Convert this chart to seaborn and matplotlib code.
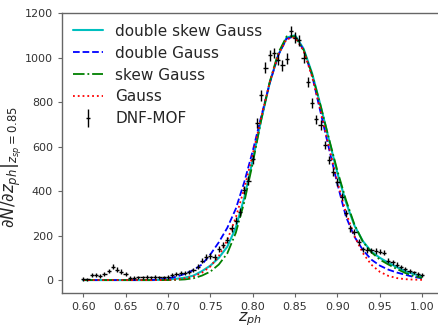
import numpy as np
import pandas as pd
import seaborn as sns
import matplotlib
matplotlib.use('Agg')
import matplotlib.pyplot as plt
from matplotlib.legend_handler import HandlerErrorbar

# measured histogram (DNF-MOF), bin centres every 0.005
z_data = [0.600, 0.605, 0.610, 0.615, 0.620, 0.625, 0.630, 0.635, 0.640, 0.645,
          0.650, 0.655, 0.660, 0.665, 0.670, 0.675, 0.680, 0.685, 0.690, 0.695,
          0.700, 0.705, 0.710, 0.715, 0.720, 0.725, 0.730, 0.735, 0.740, 0.745,
          0.750, 0.755, 0.760, 0.765, 0.770, 0.775, 0.780, 0.785, 0.790, 0.795,
          0.800, 0.805, 0.810, 0.815, 0.820, 0.825, 0.830, 0.835, 0.840, 0.845,
          0.850, 0.855, 0.860, 0.865, 0.870, 0.875, 0.880, 0.885, 0.890, 0.895,
          0.900, 0.905, 0.910, 0.915, 0.920, 0.925, 0.930, 0.935, 0.940, 0.945,
          0.950, 0.955, 0.960, 0.965, 0.970, 0.975, 0.980, 0.985, 0.990, 0.995,
          1.000]
n_data = [5, 3, 25, 22, 20, 28, 40, 60, 47, 38,
          28, 10, 10, 12, 12, 14, 12, 14, 12, 12,
          14, 25, 28, 30, 32, 36, 45, 60, 87, 102,
          108, 105, 138, 157, 180, 232, 267, 307, 405, 447,
          543, 705, 830, 955, 1010, 1020, 990, 965, 995, 1118,
          1090, 1078, 1000, 890, 795, 722, 697, 607, 540, 487,
          442, 375, 300, 232, 215, 172, 138, 135, 133, 131,
          128, 122, 88, 80, 70, 60, 50, 42, 35, 28,
          24]
n_err = [8, 7, 9, 9, 9, 9, 10, 11, 10, 10,
         9, 8, 8, 8, 8, 8, 8, 8, 8, 8,
         8, 9, 9, 9, 9, 10, 10, 11, 12, 13,
         13, 13, 14, 15, 15, 16, 17, 18, 19, 20,
         21, 22, 23, 23, 24, 24, 24, 24, 24, 25,
         25, 24, 24, 23, 22, 21, 21, 20, 19, 18,
         18, 17, 16, 15, 14, 13, 12, 12, 12, 12,
         11, 11, 10, 10, 10, 9, 9, 9, 8, 8,
         8]

# fitted curves, sampled every 0.01
z_fit = [0.60, 0.61, 0.62, 0.63, 0.64, 0.65, 0.66, 0.67, 0.68, 0.69,
         0.70, 0.71, 0.72, 0.73, 0.74, 0.75, 0.76, 0.77, 0.78, 0.79,
         0.80, 0.81, 0.82, 0.83, 0.84, 0.85, 0.86, 0.87, 0.88, 0.89,
         0.90, 0.91, 0.92, 0.93, 0.94, 0.95, 0.96, 0.97, 0.98, 0.99,
         1.00]
double_skew = [0, 0, 0, 0, 0, 0, 0, 0, 0, 1,
               3, 6, 11, 20, 40, 65, 100, 150, 235, 370,
               540, 720, 885, 1010, 1090, 1100, 1040, 930, 785, 630,
               480, 350, 245, 175, 128, 100, 78, 58, 40, 27,
               17]
double_gauss = [0, 0, 0, 0, 0, 0, 0, 0, 0, 3,
                8, 15, 28, 45, 70, 115, 170, 235, 320, 440,
                580, 735, 885, 1010, 1085, 1095, 1035, 920, 755, 590,
                430, 285, 195, 135, 92, 65, 47, 34, 24, 14,
                8]
skew_gauss = [0, 0, 0, 0, 0, 0, 0, 0, 0, 0,
              0, 1, 3, 8, 20, 38, 70, 120, 212, 350,
              525, 720, 890, 1020, 1095, 1095, 1035, 925, 785, 635,
              490, 360, 250, 172, 125, 92, 70, 50, 32, 18,
              10]
gauss = [0, 0, 0, 0, 0, 0, 0, 0, 0, 0,
         1, 3, 8, 16, 33, 61, 108, 180, 281, 411,
         565, 730, 887, 1011, 1083, 1090, 1031, 915, 763, 598,
         440, 304, 198, 121, 69, 37, 19, 9, 4, 2,
         1]

fits = pd.DataFrame({'z': z_fit, 'double skew Gauss': double_skew,
                     'double Gauss': double_gauss, 'skew Gauss': skew_gauss,
                     'Gauss': gauss})

sns.set_style('ticks', {'axes.edgecolor': '0.4', 'xtick.color': '0.4',
                        'ytick.color': '0.4', 'text.color': '0.15'})

fig = plt.figure(figsize=(4.38, 3.27), dpi=100)
ax = fig.add_axes([0.1416, 0.104, 0.8584, 0.856])

sns.lineplot(data=fits, x='z', y='double skew Gauss', ax=ax, color='c',
             lw=1.5, label='double skew Gauss')
sns.lineplot(data=fits, x='z', y='double Gauss', ax=ax, color='b',
             lw=1.3, ls='--', label='double Gauss')
sns.lineplot(data=fits, x='z', y='skew Gauss', ax=ax, color='g',
             lw=1.3, ls='-.', label='skew Gauss')
sns.lineplot(data=fits, x='z', y='Gauss', ax=ax, color='r',
             lw=1.3, ls=':', label='Gauss')
eb = ax.errorbar(z_data, n_data, yerr=n_err, xerr=0.0025, fmt='none',
                 ecolor='k', elinewidth=1.0, label='DNF-MOF')

ax.set_xlim(0.575, 1.0186)
ax.set_ylim(-58, 1200)
ax.spines['right'].set_visible(False)
ax.set_xticks([0.60, 0.65, 0.70, 0.75, 0.80, 0.85, 0.90, 0.95, 1.00])
ax.set_xticklabels(['0.60', '0.65', '0.70', '0.75', '0.80', '0.85',
                    '0.90', '0.95', '1.00'])
ax.set_yticks([0, 200, 400, 600, 800, 1000, 1200])
ax.tick_params(labelsize=8, labelcolor='0.2', length=3, width=0.8)
for s in ax.spines.values():
    s.set_linewidth(1.0)

ax.set_xlabel(r'$z_{ph}$', fontsize=11.5, color='0.15', labelpad=-1)
ax.set_ylabel(r'$\left.\partial N/\partial z_{ph}\right|_{z_{sp}=0.85}$',
              fontsize=12, color='0.15')
ax.yaxis.set_label_coords(-0.10, 0.45)

ax.legend(loc='upper left', frameon=False, fontsize=11, handlelength=2.0,
          labelspacing=0.45, borderaxespad=0.3,
          handler_map={type(eb): HandlerErrorbar(xerr_size=0.15, yerr_size=0.6)})

fig.savefig('out.png', dpi=100)
